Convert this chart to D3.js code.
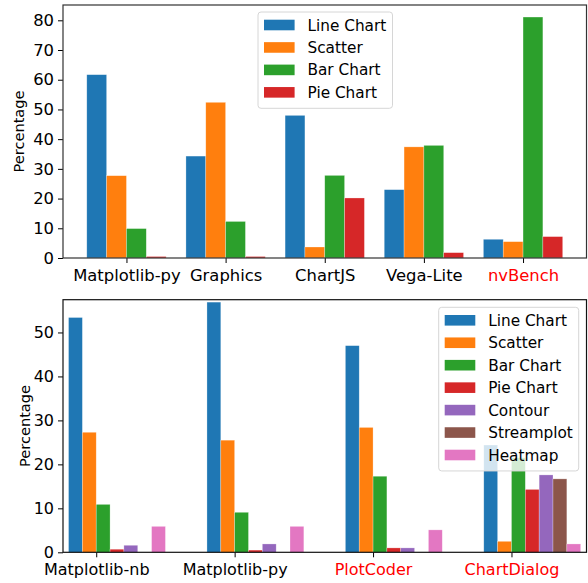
<!DOCTYPE html>
<html>
<head>
<meta charset="utf-8">
<script src="https://cdn.jsdelivr.net/npm/d3@7"></script>
<style>
  body { margin: 0; background: #fff; }
  text { font-family: "DejaVu Sans", sans-serif; }
</style>
</head>
<body>
<div id="canvas"></div>
<script>
"use strict"

// ---- data ----
let topCategories = ["Matplotlib-py", "Graphics", "ChartJS", "Vega-Lite", "nvBench"];
let topSeries = ["Line Chart", "Scatter", "Bar Chart", "Pie Chart"];
let topValues = [
    [61.7, 34.3, 48.0, 23.0, 6.3],   // Line Chart
    [27.7, 52.4, 3.7, 37.4, 5.5],    // Scatter
    [9.9, 12.3, 27.8, 37.9, 81.1],   // Bar Chart
    [0.5, 0.5, 20.2, 1.8, 7.2]       // Pie Chart
];
let topTicks = [0, 10, 20, 30, 40, 50, 60, 70, 80];
let topRedLabels = ["nvBench"];

let bottomCategories = ["Matplotlib-nb", "Matplotlib-py", "PlotCoder", "ChartDialog"];
let bottomSeries = ["Line Chart", "Scatter", "Bar Chart", "Pie Chart", "Contour", "Streamplot", "Heatmap"];
let bottomValues = [
    [53.4, 56.9, 47.0, 24.4],   // Line Chart
    [27.3, 25.5, 28.4, 2.5],    // Scatter
    [10.9, 9.1, 17.3, 21.5],    // Bar Chart
    [0.7, 0.5, 1.0, 14.3],      // Pie Chart
    [1.6, 1.9, 1.0, 17.6],      // Contour
    [0, 0, 0, 16.7],            // Streamplot
    [5.9, 5.9, 5.1, 1.9]        // Heatmap
];
let bottomTicks = [0, 10, 20, 30, 40, 50];
let bottomRedLabels = ["PlotCoder", "ChartDialog"];

let colors = ["#1f77b4", "#ff7f0e", "#2ca02c", "#d62728", "#9467bd", "#8c564b", "#e377c2"];

// ---- layout ----
let svgWidth = 588;
let svgHeight = 583;

let svg = d3.select("#canvas")
    .append("svg")
    .attr("width", svgWidth)
    .attr("height", svgHeight);

/*
    Draws one grouped bar panel.
    opts holds the pixel box, domains and the bar offset rule.
*/
function drawPanel(opts) {
    let x = d3.scaleLinear()
        .domain(opts.xDomain)
        .range([opts.left, opts.right]);

    let y = d3.scaleLinear()
        .domain(opts.yDomain)
        .range([opts.bottom, opts.top]);

    let g = svg.append("g");

    // bars
    for (let j = 0; j < opts.series.length; j++) {
        g.selectAll("rect.s" + j)
            .data(opts.values[j])
            .join("rect")
            .attr("class", "s" + j)
            .attr("x", function(d, i) { return x(opts.offset(i, j) - opts.barWidth / 2); })
            .attr("width", function(d, i) {
                return x(opts.offset(i, j) + opts.barWidth / 2) - x(opts.offset(i, j) - opts.barWidth / 2);
            })
            .attr("y", function(d) { return y(d); })
            .attr("height", function(d) { return y(0) - y(d); })
            .attr("fill", colors[j])
            .attr("stroke", function(d) { return d > 0 ? "rgba(255,255,255,0.45)" : "none"; })
            .attr("stroke-width", 0.6);
    }

    // x axis
    let xAxis = d3.axisBottom(x)
        .tickValues(d3.range(opts.categories.length))
        .tickFormat(function(d) { return opts.categories[d]; })
        .tickSize(5)
        .tickPadding(6.5);

    let xg = g.append("g")
        .attr("transform", "translate(0," + opts.bottom + ")")
        .call(xAxis);
    xg.select(".domain").remove();
    xg.selectAll("text")
        .style("font-size", opts.tickFont + "px")
        .attr("fill", function(d) {
            return opts.redLabels.indexOf(opts.categories[d]) >= 0 ? "#ff0000" : "#000";
        });

    // y axis
    let yAxis = d3.axisLeft(y)
        .tickValues(opts.yTicks)
        .tickSize(5)
        .tickPadding(4);

    let yg = g.append("g")
        .attr("transform", "translate(" + opts.left + ",0)")
        .call(yAxis);
    yg.select(".domain").remove();
    yg.selectAll("text").style("font-size", opts.tickFont + "px").attr("fill", "#000");
    yg.selectAll("line").attr("stroke", "#000");
    xg.selectAll("line").attr("stroke", "#000");

    // frame
    g.append("rect")
        .attr("x", opts.left)
        .attr("y", opts.top)
        .attr("width", opts.right - opts.left)
        .attr("height", opts.bottom - opts.top)
        .attr("fill", "none")
        .attr("stroke", opts.frameColor)
        .attr("stroke-width", 1.2);

    // y label
    g.append("text")
        .attr("transform", "translate(" + opts.ylabelX + "," + ((opts.top + opts.bottom) / 2) + ") rotate(-90)")
        .attr("text-anchor", "middle")
        .style("font-size", "14.6px")
        .text("Percentage");

    drawLegend(opts.legend, opts.series);
}

/*
    Legend box with alpha background, like matplotlib's default.
*/
function drawLegend(lg, series) {
    let rowH = 22.45;
    let boxH = series.length * rowH + 6.5;
    let g = svg.append("g");

    g.append("rect")
        .attr("x", lg.x)
        .attr("y", lg.y)
        .attr("width", lg.w)
        .attr("height", boxH)
        .attr("rx", 3)
        .attr("fill", "rgba(255,255,255,0.8)")
        .attr("stroke", "#d6d6d6")
        .attr("stroke-width", 1);

    for (let k = 0; k < series.length; k++) {
        let cy = lg.y + 13 + k * rowH;
        g.append("rect")
            .attr("x", lg.x + 6)
            .attr("y", cy - 5.3)
            .attr("width", 30.6)
            .attr("height", 10.6)
            .attr("fill", colors[k]);
        g.append("text")
            .attr("x", lg.x + 49.5)
            .attr("y", cy)
            .attr("dy", "0.36em")
            .style("font-size", "15.3px")
            .text(series[k]);
    }
}

drawPanel({
    categories: topCategories,
    series: topSeries,
    values: topValues,
    yTicks: topTicks,
    redLabels: topRedLabels,
    left: 63, right: 586.5, top: 5, bottom: 258,
    xDomain: [-0.64, 4.64],
    yDomain: [0, 85.15],
    barWidth: 0.2,
    offset: function(i, j) { return i + (j - 1.5) * 0.2; },
    tickFont: 16.4,
    ylabelX: 23.5,
    frameColor: "#333",
    legend: { x: 258, y: 12, w: 134.5 }
});

drawPanel({
    categories: bottomCategories,
    series: bottomSeries,
    values: bottomValues,
    yTicks: bottomTicks,
    redLabels: bottomRedLabels,
    left: 63, right: 586.5, top: 299.7, bottom: 552.3,
    xDomain: [-0.24, 3.542],
    yDomain: [0, 57.45],
    barWidth: 0.1,
    offset: function(i, j) { return i - 0.15 + j * 0.1; },
    tickFont: 16,
    ylabelX: 29.5,
    frameColor: "#111",
    legend: { x: 438.7, y: 307.3, w: 140 }
});
</script>
</body>
</html>
